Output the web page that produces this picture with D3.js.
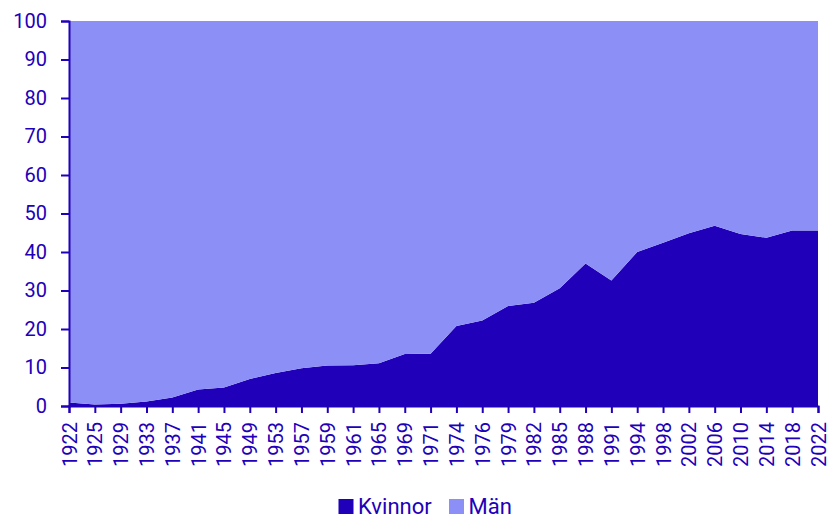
<!DOCTYPE html>
<html><head><meta charset="utf-8">
<script src="https://cdn.jsdelivr.net/npm/d3@7"></script>
<style>body{margin:0;background:#fff}svg{display:block;font-family:Roboto,sans-serif}</style>
</head><body><svg id="c" width="838" height="519"></svg>
<script>
const years = ["1922","1925","1929","1933","1937","1941","1945","1949","1953","1957","1959","1961","1965","1969","1971","1974","1976","1979","1982","1985","1988","1991","1994","1998","2002","2006","2010","2014","2018","2022"];
const kvinnor = [0.9,0.4,0.6,1.2,2.2,4.3,4.8,7.0,8.6,9.8,10.5,10.6,11.1,13.5,13.6,20.8,22.2,26.0,26.8,30.6,37.0,32.6,40.0,42.4,44.9,46.8,44.7,43.7,45.6,45.6];
const man = [99.1,99.6,99.4,98.8,97.8,95.7,95.2,93.0,91.4,90.2,89.5,89.4,88.9,86.5,86.4,79.2,77.8,74.0,73.2,69.4,63.0,67.4,60.0,57.6,55.1,53.2,55.3,56.3,54.4,54.4];
const seriesNames = ["Kvinnor","Män"];
const yTicks = [0,10,20,30,40,50,60,70,80,90,100];
const colors = ["#2100b9","#8c8ff5"];
const textColor = "#2100b9";

const W=838,H=519,m={l:69,r:20,t:21,b:113};
const svg=d3.select("#c");
const x=d3.scalePoint().domain(years).range([m.l,W-m.r]);
const y=d3.scaleLinear().domain([0,100]).range([H-m.b,m.t]);

const rows=years.map((yr,i)=>({year:yr,Kvinnor:kvinnor[i],"Män":man[i]}));
const stack=d3.stack().keys(seriesNames)(rows);
const area=d3.area().x(d=>x(d.data.year)).y0(d=>y(d[0])).y1(d=>y(d[1]));
svg.selectAll("path.a").data(stack).join("path").attr("class","a")
  .attr("d",area).attr("fill",(d,i)=>colors[i]);

const ya=svg.append("g").attr("transform",`translate(${m.l},0)`)
  .call(d3.axisLeft(y).tickValues(yTicks).tickSize(8).tickPadding(14));
ya.selectAll("text").attr("font-size",20).attr("fill",textColor).attr("font-family","Roboto");
ya.selectAll("line,path").attr("stroke",textColor).attr("stroke-width",2);

const xa=svg.append("g").attr("transform",`translate(0,${H-m.b})`)
  .call(d3.axisBottom(x).tickSize(7).tickPadding(8));
xa.selectAll("line,path").attr("stroke",textColor).attr("stroke-width",2);
xa.selectAll("text").attr("font-size",20).attr("fill",textColor).attr("font-family","Roboto")
  .attr("transform","rotate(-90)").attr("text-anchor","end").attr("dy","0.35em")
  .attr("x",-16).attr("y",0);

const lg=svg.append("g");
const items=[{n:"Kvinnor",c:colors[0],x:338.5},{n:"Män",c:colors[1],x:449}];
items.forEach(it=>{
  lg.append("rect").attr("x",it.x).attr("y",499).attr("width",15).attr("height",15).attr("fill",it.c);
  lg.append("text").attr("x",it.x+19.5).attr("y",513.5).attr("font-size",22)
    .attr("fill",textColor).text(it.n);
});
</script></body></html>
